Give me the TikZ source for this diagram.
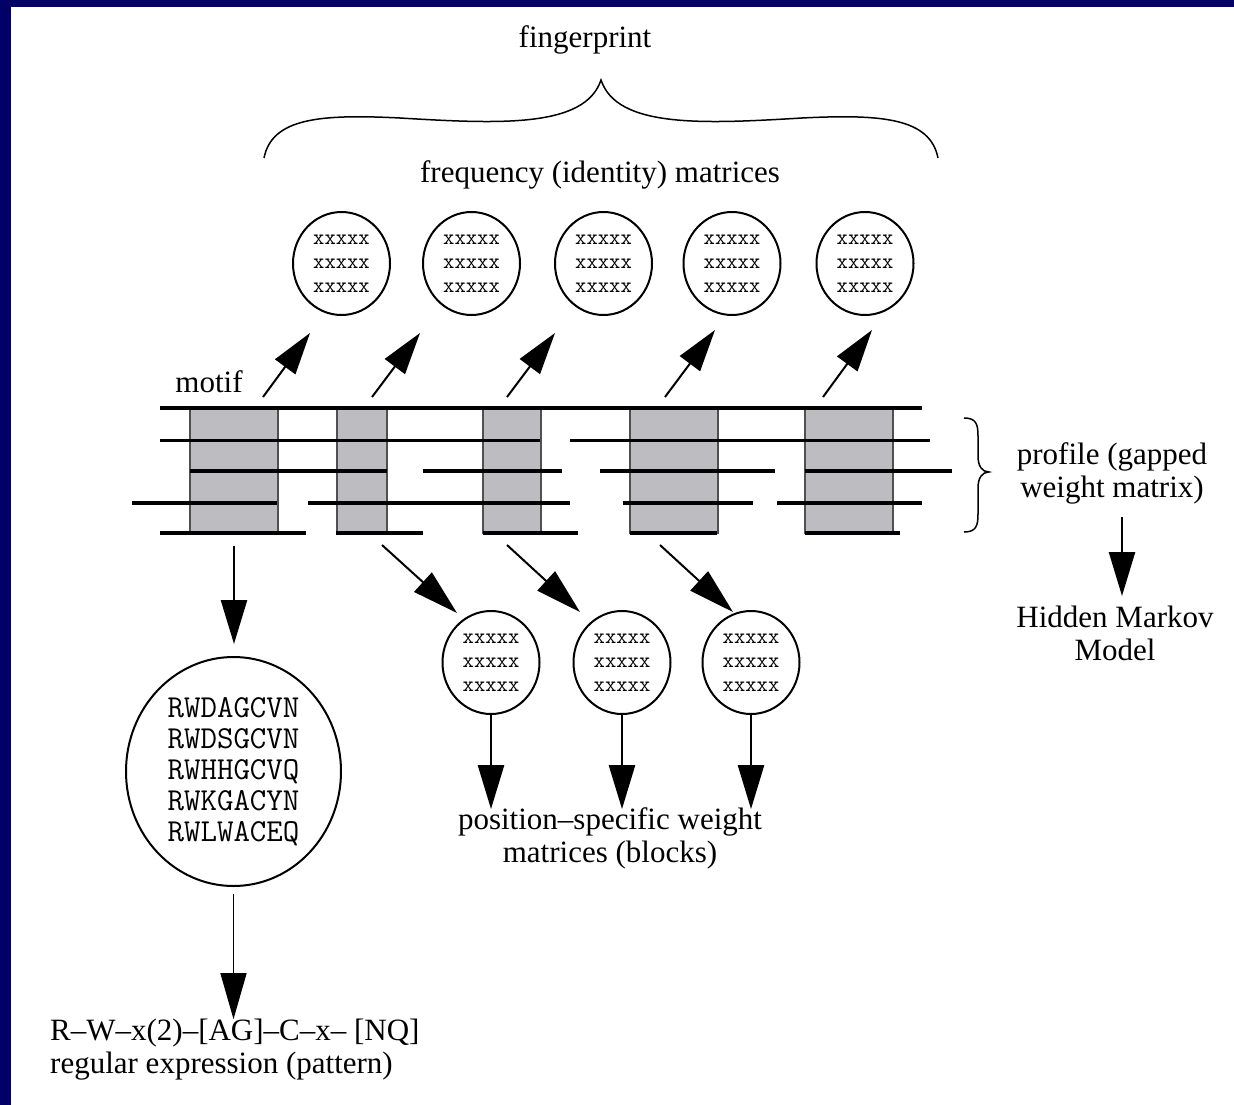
\documentclass[tikz,border=0pt]{standalone}
\usepackage{fontspec}
\setmainfont{Liberation Serif}
\usetikzlibrary{arrows.meta,shapes.geometric}
\definecolor{navyb}{RGB}{0,0,102}
\definecolor{boxgray}{RGB}{189,189,193}
\definecolor{boxedge}{RGB}{80,80,80}
\tikzset{
  lbl/.style={font=\fontsize{31}{33}\selectfont, inner sep=0pt, align=center},
  matcirc/.style={draw, line width=2pt, ellipse, minimum width=97pt, minimum height=103pt, inner sep=0pt, font=\ttfamily\fontsize{22}{24}\selectfont, align=center},
  motifbox/.style={draw=boxedge, fill=boxgray, line width=1.2pt, inner sep=0pt},
  thickseq/.style={line width=4.5pt},
  thinseq/.style={line width=3pt},
  bigarrow/.style={line width=2.5pt, -{Triangle[length=44pt,width=26pt]}},
  thinarrow/.style={line width=1.5pt, -{Triangle[length=46pt,width=26pt]}},
  bracestyle/.style={line width=1.5pt}
}
\begin{document}
\begin{tikzpicture}[x=1pt,y=-1pt]
\useasboundingbox (0,0) rectangle (1234,1105);
\fill[white] (0,0) rectangle (1234,1105);
\fill[navyb] (0,0) rectangle (11,1105);
\fill[navyb] (0,0) rectangle (1234,7);

% labels at top
\node[lbl] (fp) at (585,40) {fingerprint};
\draw[bracestyle] (264,158) .. controls (272,118) and (320,114) .. (400,118)
  .. controls (500,124) and (585,128) .. (601,80)
  .. controls (617,128) and (702,124) .. (802,118)
  .. controls (882,114) and (930,118) .. (938,158);
\node[lbl] (freq) at (600,175) {frequency (identity) matrices};

% top matrices
\node[matcirc] (t1) at (341.5,263.5) {xxxxx\\xxxxx\\xxxxx};
\node[matcirc] (t2) at (471.5,263.5) {xxxxx\\xxxxx\\xxxxx};
\node[matcirc] (t3) at (603.5,263.5) {xxxxx\\xxxxx\\xxxxx};
\node[matcirc] (t4) at (732,263.5) {xxxxx\\xxxxx\\xxxxx};
\node[matcirc] (t5) at (865,263.5) {xxxxx\\xxxxx\\xxxxx};

% motif boxes
\node[motifbox, minimum width=88pt, minimum height=125pt] (m1) at (234,470.5) {};
\node[motifbox, minimum width=50pt, minimum height=125pt] (m2) at (362,470.5) {};
\node[motifbox, minimum width=58pt, minimum height=125pt] (m3) at (512,470.5) {};
\node[motifbox, minimum width=88pt, minimum height=125pt] (m4) at (674,470.5) {};
\node[motifbox, minimum width=88pt, minimum height=125pt] (m5) at (849,470.5) {};

% sequence rows
\draw[thickseq] (160,408) -- (922,408);
\draw[thinseq] (160,440) -- (540,440) (570,440) -- (930,440);
\draw[thickseq] (190,471) -- (387,471) (423,471) -- (562,471) (600,471) -- (775,471) (805,471) -- (952,471);
\draw[thickseq] (132,503) -- (277,503) (308,503) -- (570,503) (623,503) -- (753,503) (777,503) -- (922,503);
\draw[thickseq] (160,533) -- (306,533) (336,533) -- (423,533) (483,533) -- (578,533) (630,533) -- (717,533) (805,533) -- (900,533);

\node[lbl] (motif) at (209,382) {motif};

% arrows up to frequency matrices
\coordinate (u1) at (263,397); \coordinate (h1) at (310,333);
\coordinate (u2) at (372,397); \coordinate (h2) at (420,333);
\coordinate (u3) at (507,397); \coordinate (h3) at (555,333);
\coordinate (u4) at (665,397); \coordinate (h4) at (715,330);
\coordinate (u5) at (823,397); \coordinate (h5) at (872,330);
\foreach \i in {1,...,5} {\draw[line width=2pt, -{Triangle[length=42pt,width=25pt]}] (u\i) -- (h\i);}

% profile brace
\draw[bracestyle] (964,418) .. controls (976,418) and (978,424) .. (978,436) -- (978,456)
  .. controls (978,466) and (982,472) .. (989,472)
  .. controls (982,472) and (978,478) .. (978,488) -- (978,514)
  .. controls (978,526) and (976,532) .. (964,532);
\node[lbl] (prof) at (1112,473) {profile (gapped\\weight matrix)};
\node[lbl] (hmm) at (1115,633) {Hidden Markov\\Model};
\coordinate (p1) at (1122,517); \coordinate (p2) at (1122,596);
\draw[bigarrow] (p1) -- (p2);

% regular expression branch
\node[draw, line width=2pt, ellipse, minimum width=215pt, minimum height=229pt, inner sep=0pt,
  font=\ttfamily\fontsize{32}{31}\selectfont, align=left] (ell) at (233.5,771.5)
  {RWDAGCVN\\RWDSGCVN\\RWHHGCVQ\\RWKGACYN\\RWLWACEQ};
\draw[bigarrow, shorten <=12pt, shorten >=12pt] (m1.south) -- (m1.south |- ell.north);
\node[lbl, align=left, anchor=west] (re) at (50,1050) {R–W–x(2)–[AG]–C–x– [NQ]\\regular expression (pattern)};
\draw[thinarrow, shorten <=7pt] (ell.south) -- (ell.south |- re.north);

% blocks branch
\node[matcirc] (b1) at (491,662.5) {xxxxx\\xxxxx\\xxxxx};
\node[matcirc] (b2) at (622,662.5) {xxxxx\\xxxxx\\xxxxx};
\node[matcirc] (b3) at (751,662.5) {xxxxx\\xxxxx\\xxxxx};
\coordinate (d1) at (382,545); \coordinate (e1) at (457,613);
\coordinate (d2) at (507,545); \coordinate (e2) at (580,612);
\coordinate (d3) at (660,545); \coordinate (e3) at (733,612);
\foreach \i in {1,2,3} {\draw[line width=2pt, -{Triangle[length=46pt,width=26pt]}] (d\i) -- (e\i);}
\node[lbl] (psw) at (610,838) {position–specific weight\\matrices (blocks)};
\draw[bigarrow] (b1.south) -- ([yshift=-2pt]b1.south |- psw.north);
\draw[bigarrow] (b2.south) -- ([yshift=-2pt]b2.south |- psw.north);
\draw[bigarrow] (b3.south) -- ([yshift=-2pt]b3.south |- psw.north);
\end{tikzpicture}
\end{document}
